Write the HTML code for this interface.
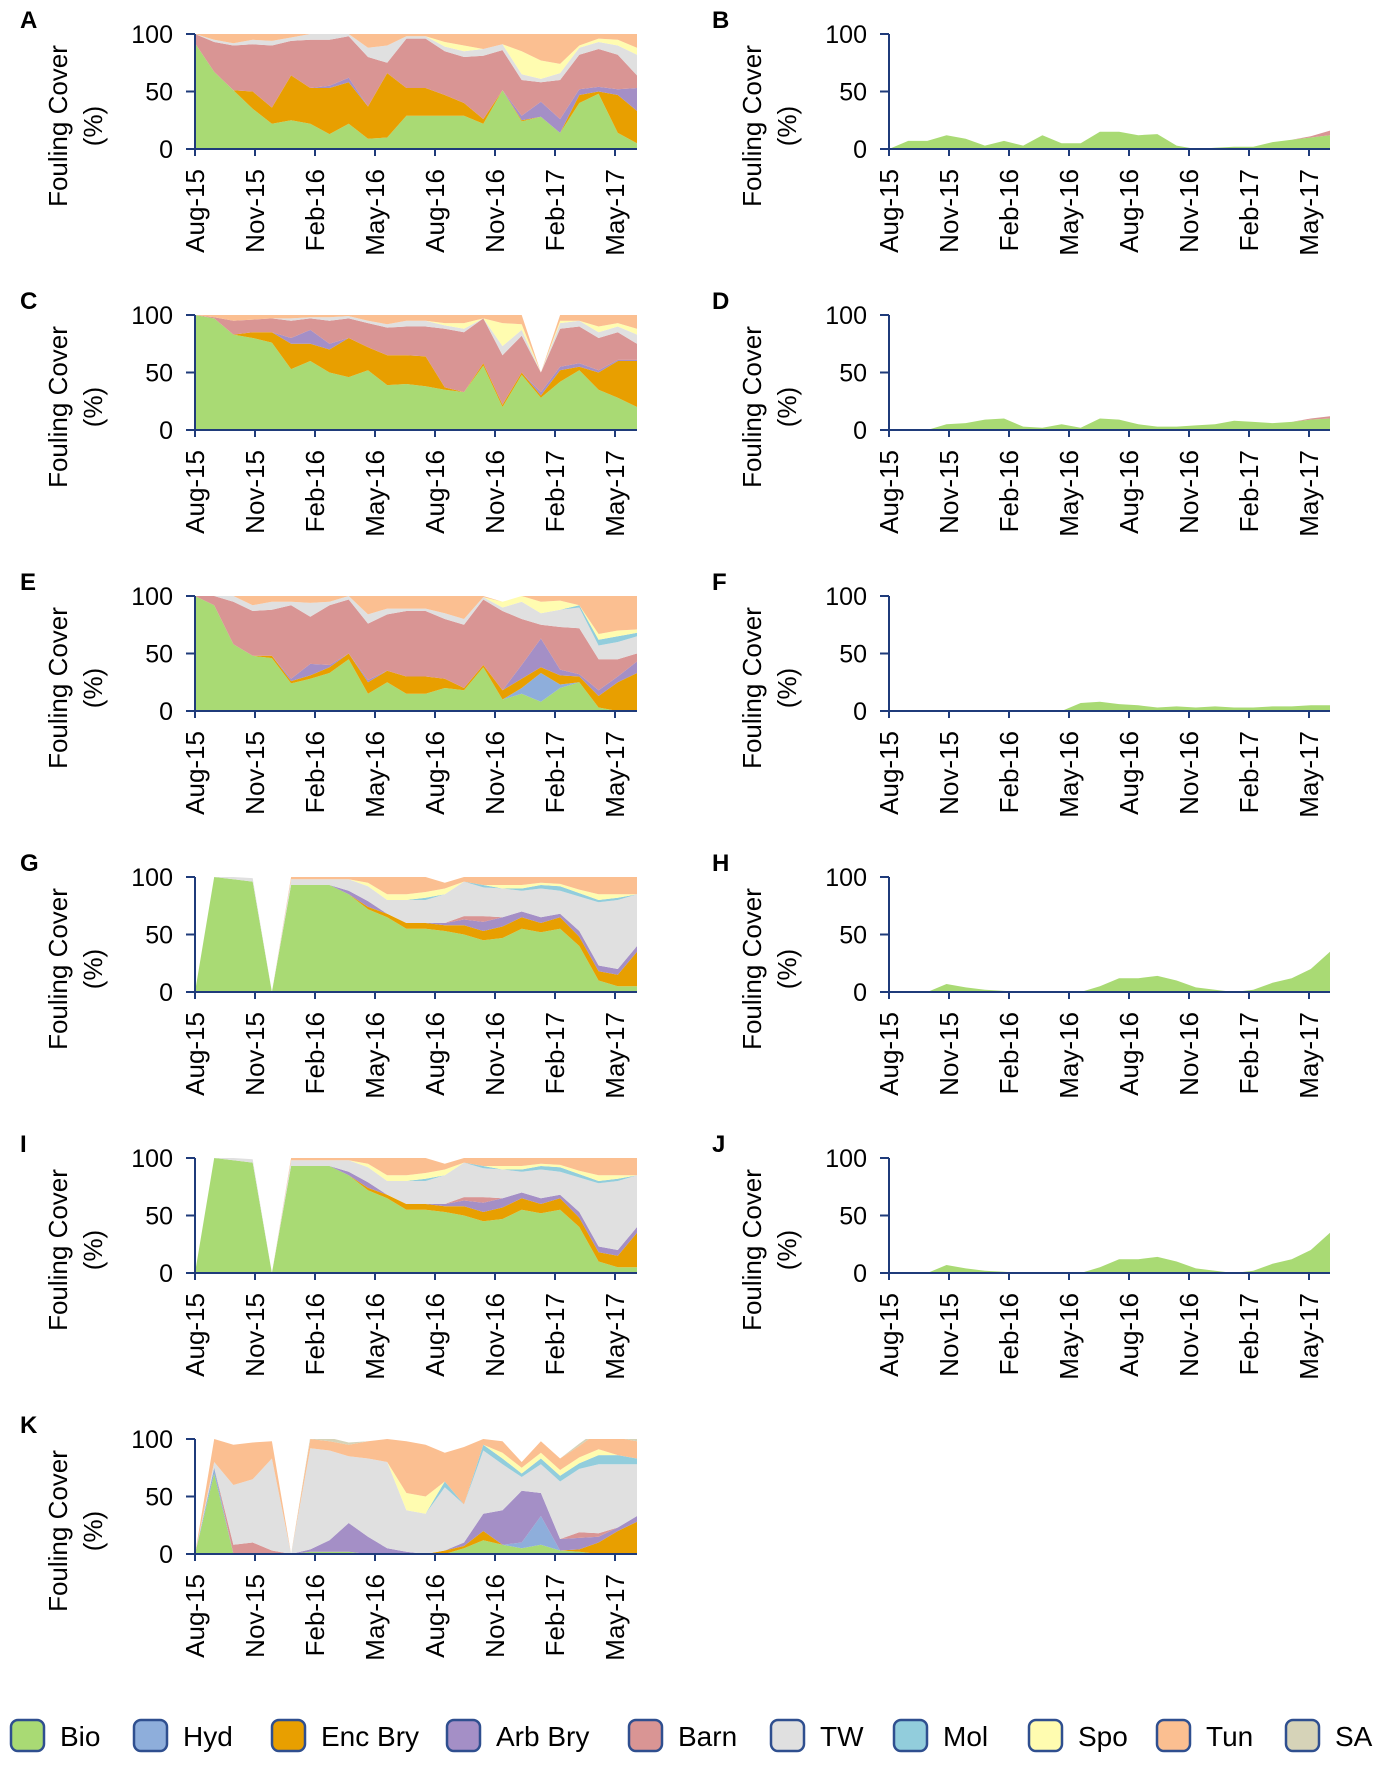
<!DOCTYPE html>
<html><head><meta charset="utf-8"><style>
body{margin:0;background:#fff;}
svg text{font-family:"Liberation Sans",sans-serif;}
</style></head><body>
<svg id="fig" width="1375" height="1765" viewBox="0 0 1375 1765" xmlns="http://www.w3.org/2000/svg"></svg>
<script>
const seriesNames=["Bio","Hyd","Enc Bry","Arb Bry","Barn","TW","Mol","Spo","Tun","SA"];
const seriesColors=["#a9da74","#8eaedb","#e89f00","#a48fc6","#d99594","#e0e0e0","#92cddc","#fffcb0","#fbbf91","#d6d3b8"];
const tickLabels=["Aug-15","Nov-15","Feb-16","May-16","Aug-16","Nov-16","Feb-17","May-17"];
const yTicks=[0,50,100];
const Z=()=>new Array(24).fill(0);
// Panel A
const aBio=[92,67,51,35,22,25,22,13,22,9,10,29,29,29,29,22,51,24,28,14,40,48,14,5];
const aEnc=[0,0,0,15,14,39,31,40,36,28,56,24,24,18,11,4,0,1,0,0,7,2,33,28];
const aArb=[0,0,0,0,0,0,0,2,4,0,0,0,0,0,0,0,0,4,13,12,5,4,5,20];
const aBarn=[8,26,39,41,54,30,42,40,36,43,9,43,43,38,40,55,35,31,17,34,30,33,30,11];
const aTW=[0,2,2,4,4,3,5,5,2,8,15,2,2,4,5,6,5,5,3,6,6,6,8,18];
const aSpo=[0,0,0,0,0,0,0,0,0,0,0,0,0,4,5,0,0,20,16,8,2,3,5,6];
const aTun=[0,5,8,5,6,3,0,0,0,12,10,2,2,7,10,13,9,15,23,26,10,4,5,12];
// Panel B
const bBio=[0,7,7,12,9,3,7,3,12,5,5,15,15,12,13,3,0,1,2,2,6,8,10,12];
const bBarn=[0,0,0,0,0,0,0,0,0,0,0,0,0,0,0,0,0,0,0,0,0,0,1,4];
// Panel C
const cBio=[100,97,83,80,76,53,60,50,46,52,39,40,38,35,33,56,20,48,28,42,52,35,28,20];
const cEnc=[0,0,0,5,9,22,15,20,34,20,26,25,26,2,0,2,2,2,2,10,3,15,32,40];
const cArb=[0,0,0,0,0,5,12,5,0,0,0,0,0,0,0,0,0,0,3,3,3,2,1,1];
const cBarn=[0,1,12,11,12,15,10,20,17,21,24,25,26,51,52,39,43,32,17,33,32,28,24,14];
const cTW=[0,0,0,0,0,2,1,3,2,2,3,5,5,3,3,0,8,5,0,5,5,5,5,8];
const cSpo=[0,0,0,0,0,0,0,0,0,0,0,0,0,2,5,0,20,5,0,2,0,5,3,5];
const cTun=[0,2,5,4,3,3,2,2,1,5,8,5,5,7,7,3,7,8,0,5,5,10,7,12];
// Panel D
const dBio=[0,0,0,5,6,9,10,3,2,5,2,10,9,5,3,3,4,5,8,7,6,7,9,10];
const dBarn=[0,0,0,0,0,0,0,0,0,0,0,0,0,0,0,0,0,0,0,0,0,0,1,2];
// Panel E
const eBio=[100,92,58,48,46,24,28,33,45,15,25,15,15,20,18,38,10,15,8,20,25,3,0,0];
const eHyd=[0,0,0,0,0,0,0,0,0,0,0,0,0,0,0,0,0,5,25,3,0,0,0,0];
const eEnc=[0,0,0,0,2,2,3,5,5,10,10,15,15,8,2,2,8,8,5,8,5,10,25,33];
const eArb=[0,0,0,0,0,2,10,2,0,2,0,0,0,0,0,0,0,12,25,5,2,5,5,10];
const eBarn=[0,8,37,39,40,64,41,52,47,49,49,57,57,52,55,57,69,40,12,37,40,27,15,7];
const eTW=[0,0,5,5,7,3,12,3,3,8,5,2,2,5,5,2,3,15,10,15,18,12,15,15];
const eMol=[0,0,0,0,0,0,0,0,0,0,0,0,0,0,0,0,0,0,0,0,2,5,5,3];
const eSpo=[0,0,0,0,0,0,0,0,0,0,0,0,0,0,0,0,5,5,10,8,0,5,5,3];
const eTun=[0,0,0,8,5,5,6,5,0,16,11,11,11,15,20,1,0,0,5,4,8,33,30,29];
// Panel F
const fBio=[0,0,0,0,0,0,0,0,0,0,7,8,6,5,3,4,3,4,3,3,4,4,5,5];
// Panel G / I
const gBio=[0,100,98,96,0,93,93,93,85,72,65,55,55,53,50,45,47,55,52,55,40,10,5,5];
const gEnc=[0,0,0,0,0,0,0,0,0,2,3,5,5,5,8,8,10,10,8,10,8,8,10,30];
const gArb=[0,0,0,0,0,0,0,0,3,5,0,0,0,2,5,8,8,5,5,3,5,5,5,5];
const gBarn=[0,0,0,0,0,0,0,0,0,0,0,0,0,0,3,5,0,0,0,0,0,0,0,0];
const gTW=[0,0,2,3,0,5,5,5,10,13,12,20,20,25,30,25,25,18,25,20,30,55,60,45];
const gMol=[0,0,0,0,0,0,0,0,0,0,0,0,2,0,0,2,0,2,3,4,3,2,2,0];
const gSpo=[0,0,0,0,0,0,0,0,0,3,5,5,5,5,0,0,3,3,2,2,3,5,3,0];
const gTun=[0,0,0,0,0,2,2,2,2,5,15,15,13,5,4,7,7,7,5,6,11,15,15,15];
// Panel H / J
const hBio=[0,0,0,7,4,2,1,0,0,0,0,5,12,12,14,10,4,2,0,2,8,12,20,35];
// Panel K
const kBio=[0,70,0,0,0,0,2,2,2,0,0,0,0,0,5,12,8,5,8,3,2,0,0,0];
const kHyd=[0,5,0,0,0,0,0,0,0,0,0,0,0,0,0,0,0,5,25,0,0,0,0,0];
const kEnc=[0,0,0,0,0,0,0,0,0,0,0,0,0,3,2,8,0,0,0,0,2,10,20,28];
const kArb=[0,0,0,0,0,0,2,10,25,15,5,2,0,0,3,15,30,45,20,10,10,5,3,5];
const kBarn=[0,0,8,10,3,0,0,0,0,0,0,0,0,0,0,0,0,0,0,0,5,3,0,0];
const kTW=[0,5,52,55,80,0,88,78,58,68,75,36,35,55,33,55,40,12,25,50,55,60,55,45];
const kMol=[0,0,0,0,0,0,0,0,0,0,0,0,0,5,0,5,5,3,5,5,5,8,8,5];
const kSpo=[0,0,0,0,0,0,0,0,0,0,0,15,15,0,0,0,5,5,5,5,5,5,0,0];
const kTun=[0,20,35,32,15,0,8,8,10,15,20,45,45,25,50,5,10,5,10,10,10,15,15,15];
const kSA=[0,0,0,0,0,0,2,3,2,0,0,0,0,0,0,0,0,0,0,0,2,2,2,2];

const NS="http://www.w3.org/2000/svg";
const svg=document.getElementById('fig');
function mk(tag,attrs,parent){const e=document.createElementNS(NS,tag);for(const k in attrs)e.setAttribute(k,attrs[k]);(parent||svg).appendChild(e);return e;}
const panels=[
 {id:"A",col:0,row:0,s:[aBio,Z(),aEnc,aArb,aBarn,aTW,Z(),aSpo,aTun,Z()]},
 {id:"B",col:1,row:0,s:[bBio,Z(),Z(),Z(),bBarn,Z(),Z(),Z(),Z(),Z()]},
 {id:"C",col:0,row:1,s:[cBio,Z(),cEnc,cArb,cBarn,cTW,Z(),cSpo,cTun,Z()]},
 {id:"D",col:1,row:1,s:[dBio,Z(),Z(),Z(),dBarn,Z(),Z(),Z(),Z(),Z()]},
 {id:"E",col:0,row:2,s:[eBio,eHyd,eEnc,eArb,eBarn,eTW,eMol,eSpo,eTun,Z()]},
 {id:"F",col:1,row:2,s:[fBio,Z(),Z(),Z(),Z(),Z(),Z(),Z(),Z(),Z()]},
 {id:"G",col:0,row:3,s:[gBio,Z(),gEnc,gArb,gBarn,gTW,gMol,gSpo,gTun,Z()]},
 {id:"H",col:1,row:3,s:[hBio,Z(),Z(),Z(),Z(),Z(),Z(),Z(),Z(),Z()]},
 {id:"I",col:0,row:4,s:[gBio,Z(),gEnc,gArb,gBarn,gTW,gMol,gSpo,gTun,Z()]},
 {id:"J",col:1,row:4,s:[hBio,Z(),Z(),Z(),Z(),Z(),Z(),Z(),Z(),Z()]},
 {id:"K",col:0,row:5,s:[kBio,kHyd,kEnc,kArb,kBarn,kTW,kMol,kSpo,kTun,kSA]}
];
const AX="#1f3b7a";
panels.forEach(p=>{
 const x0=p.col?889:195, x1=p.col?1330:637, top=34+p.row*281, h=115, bot=top+h;
 const g=mk('g',{});
 
 
 const xs=i=>x0+i*(x1-x0)/23;
 const ys=v=>bot-v/100*h;
 const cid='clip'+p.id;
 const cp=mk('clipPath',{id:cid},g);mk('rect',{x:x0,y:top,width:x1-x0,height:h},cp);
 const ag=mk('g',{'clip-path':'url(#'+cid+')'},g);
 let base=new Array(24).fill(0);
 p.s.forEach((vals,si)=>{
  if(vals.every(v=>v===0)) return;
  const topv=base.map((b,i)=>b+vals[i]);
  let d='M'+topv.map((v,i)=>xs(i).toFixed(1)+','+ys(v).toFixed(1)).join('L');
  for(let i=23;i>=0;i--) d+='L'+xs(i).toFixed(1)+','+ys(base[i]).toFixed(1);
  const a=mk('path',{d:d+'Z',fill:seriesColors[si]},ag);
  
  
  base=topv;
 });
 const lt=mk('text',{x:p.col?712:20,y:top-6,'font-size':24,'font-weight':'bold'},g);lt.textContent=p.id;
 
 
 mk('line',{x1:x0,y1:top,x2:x0,y2:bot,stroke:AX,'stroke-width':2},g);
 mk('line',{x1:x0,y1:bot,x2:x1,y2:bot,stroke:AX,'stroke-width':2},g);
 yTicks.forEach(t=>{
  mk('line',{x1:x0-9,y1:ys(t),x2:x0,y2:ys(t),stroke:AX,'stroke-width':2},g);
  const tt=mk('text',{x:x0-22,y:ys(t)+9,'font-size':25,'text-anchor':'end'},g);tt.textContent=t;
  
  
 });
 tickLabels.forEach((lab,k)=>{
  const tx=x0+k*3*20;
  mk('line',{x1:tx,y1:bot,x2:tx,y2:bot+7,stroke:AX,'stroke-width':2},g);
  const tt=mk('text',{x:0,y:0,'font-size':26,'text-anchor':'end',transform:'translate('+(tx+9)+','+(bot+20)+') rotate(-90)'},g);tt.textContent=lab;
  
  
 });
 const cy=top+92;
 const t1=mk('text',{x:0,y:0,'font-size':26,'text-anchor':'middle',transform:'translate('+(x0-128)+','+cy+') rotate(-90)'},g);t1.textContent='Fouling Cover';
 
 
 const t2=mk('text',{x:0,y:0,'font-size':26,'text-anchor':'middle',transform:'translate('+(x0-93)+','+cy+') rotate(-90)'},g);t2.textContent='(%)';
 
 
});
const legX=[11,134,272,447,629,771,894,1029,1157,1286];
seriesNames.forEach((n,i)=>{
 const g=mk('g',{});
 
 
 mk('rect',{x:legX[i],y:1720,width:33,height:31,rx:7,fill:seriesColors[i],stroke:"#2f4f8f",'stroke-width':2.5},g);
 const t=mk('text',{x:legX[i]+49,y:1746,'font-size':28},g);t.textContent=n;
});
</script>
</body></html>
